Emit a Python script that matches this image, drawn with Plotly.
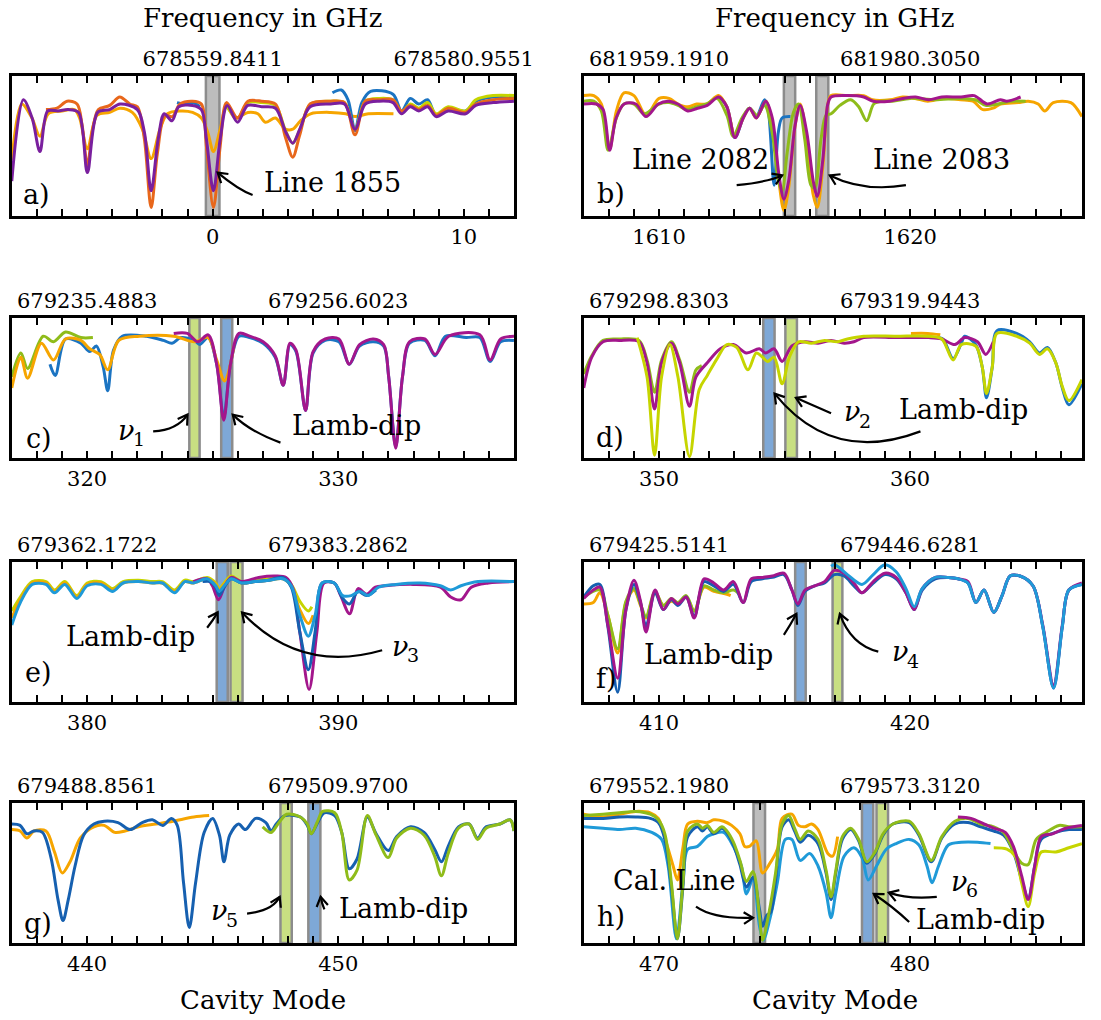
import math
import plotly.graph_objects as go

FONT = "DejaVu Serif"
W, H = 1101, 1020

# ---------------- axis / label data ----------------
PANEL_LETTERS = ["a)", "b)", "c)", "d)", "e)", "f)", "g)", "h)"]
X_START = [-8, 1607, 317, 347, 377, 407, 437, 467]
TOP_TICK_MODES = [[0, 10], [1610, 1620], [320, 330], [350, 360],
                  [380, 390], [410, 420], [440, 450], [470, 480]]
TOP_TICK_LABELS = [["678559.8411", "678580.9551"], ["681959.1910", "681980.3050"],
                   ["679235.4883", "679256.6023"], ["679298.8303", "679319.9443"],
                   ["679362.1722", "679383.2862"], ["679425.5141", "679446.6281"],
                   ["679488.8561", "679509.9700"], ["679552.1980", "679573.3120"]]
LETTER_POS = [(-7.0, 0.15), (1608.1, 0.16), (318.1, 0.14), (348.05, 0.15),
              (378.06, 0.21), (407.9, 0.17), (438.04, 0.14), (468.09, 0.19)]

# ---------------- spectra (cavity mode, normalised signal) ----------------
A_PURPLE = [(-8.0, 0.25), (-7.54, 0.83), (-7.19, 0.70), (-6.88, 0.46), (-6.57, 0.75), (-6.16, 0.75),
            (-5.75, 0.76), (-5.34, 0.74), (-4.99, 0.31), (-4.58, 0.74), (-4.10, 0.76), (-3.69, 0.80),
            (-3.0, 0.76), (-2.72, 0.60), (-2.45, 0.18), (-2.17, 0.55), (-1.93, 0.73), (-1.62, 0.68),
            (-1.35, 0.78), (-0.80, 0.79), (-0.45, 0.76), (-0.25, 0.55), (0.03, 0.18), (0.30, 0.55),
            (0.58, 0.79), (0.99, 0.67), (1.40, 0.79), (1.95, 0.78), (2.50, 0.77), (2.91, 0.60),
            (3.19, 0.52), (3.47, 0.62), (3.88, 0.78), (4.70, 0.80), (5.25, 0.80), (5.67, 0.62),
            (6.08, 0.80), (6.63, 0.82), (7.18, 0.81), (7.52, 0.73), (7.87, 0.78), (8.21, 0.75),
            (8.56, 0.78), (8.90, 0.71), (9.38, 0.75), (10.07, 0.73), (10.48, 0.79), (11.17, 0.81),
            (12.0, 0.82)]
A_ORANGE = [(-6.64, 0.76), (-6.2, 0.77), (-5.8, 0.82), (-5.4, 0.80), (-5.2, 0.65), (-4.99, 0.36),
            (-4.78, 0.62), (-4.55, 0.76), (-4.1, 0.79), (-3.7, 0.85), (-3.3, 0.80), (-3.0, 0.78),
            (-2.72, 0.55), (-2.45, 0.06), (-2.2, 0.45), (-1.9, 0.72), (-1.6, 0.71), (-1.3, 0.80),
            (-0.8, 0.82), (-0.45, 0.80), (-0.25, 0.50), (0.03, 0.06), (0.3, 0.50), (0.55, 0.81),
            (0.99, 0.70), (1.4, 0.82), (1.95, 0.82), (2.5, 0.80), (2.9, 0.56), (3.19, 0.42),
            (3.47, 0.58), (3.88, 0.80), (4.7, 0.82), (5.25, 0.81), (5.67, 0.58), (6.08, 0.82),
            (6.63, 0.83), (7.18, 0.83), (7.52, 0.75), (7.87, 0.79), (8.21, 0.76), (8.56, 0.79),
            (8.9, 0.72), (9.38, 0.77), (10.07, 0.74), (10.48, 0.80), (11.17, 0.83), (12.0, 0.84)]
A_AMBER = [(-8.0, 0.40), (-7.6, 0.80), (-7.2, 0.70), (-6.88, 0.57), (-6.55, 0.73), (-6.0, 0.75),
           (-5.5, 0.76), (-5.3, 0.70), (-4.99, 0.48), (-4.6, 0.72), (-4.1, 0.74), (-3.7, 0.77),
           (-3.2, 0.74), (-2.8, 0.62), (-2.45, 0.41), (-2.1, 0.62), (-1.8, 0.73), (-1.3, 0.75),
           (-0.8, 0.74), (-0.45, 0.70), (-0.2, 0.60), (0.03, 0.46), (0.3, 0.62), (0.55, 0.78),
           (0.9, 0.70), (1.4, 0.74), (1.8, 0.73), (2.1, 0.67), (2.5, 0.70), (2.9, 0.62),
           (3.19, 0.62), (3.5, 0.68), (3.9, 0.73), (4.7, 0.74), (5.3, 0.73), (5.67, 0.71),
           (6.2, 0.73), (7.2, 0.73)]
A_BLUE = [(-1.42, 0.81), (-1.1, 0.80), (-0.8, 0.81), (-0.5, 0.78), (None, None),
          (4.77, 0.88), (5.12, 0.90), (5.39, 0.83), (5.67, 0.61), (5.94, 0.81), (6.29, 0.89),
          (7.18, 0.87), (7.52, 0.75), (7.87, 0.84), (8.21, 0.80), (8.56, 0.83), (8.9, 0.72),
          (9.38, 0.77), (10.07, 0.75), (10.48, 0.82), (11.17, 0.85), (12.0, 0.85)]
A_GREEN = [(0.5, 0.80), (0.99, 0.70), (1.4, 0.81), (1.95, 0.81), (2.5, 0.79), (2.9, 0.61),
           (3.19, 0.52), (3.5, 0.63), (3.9, 0.80), (4.7, 0.82), (5.25, 0.81), (5.67, 0.62),
           (6.08, 0.82), (6.63, 0.84), (7.18, 0.83), (7.52, 0.74), (7.87, 0.80), (8.21, 0.77),
           (8.56, 0.81), (8.9, 0.73), (9.38, 0.78), (10.07, 0.75), (10.48, 0.83), (11.17, 0.86),
           (12.0, 0.86)]

B_MAGENTA = [(1607.0, 0.80), (1607.5, 0.80), (1607.77, 0.76), (1608.03, 0.47), (1608.29, 0.70),
             (1608.61, 0.80), (1609.07, 0.80), (1609.48, 0.71), (1609.97, 0.80), (1610.36, 0.82),
             (1610.75, 0.80), (1611.14, 0.75), (1611.53, 0.77), (1611.92, 0.79), (1612.37, 0.85),
             (1612.70, 0.78), (1613.02, 0.56), (1613.35, 0.70), (1613.61, 0.77), (1613.87, 0.70),
             (1614.25, 0.82), (1614.51, 0.70), (1614.77, 0.30), (1614.97, 0.12), (1615.16, 0.25),
             (1615.42, 0.65), (1615.62, 0.79), (1615.88, 0.60), (1616.14, 0.25), (1616.30, 0.14),
             (1616.52, 0.40), (1616.72, 0.80), (1616.85, 0.85), (1617.5, 0.86), (1618.15, 0.85),
             (1618.53, 0.82), (1619.18, 0.82), (1619.70, 0.84), (1620.22, 0.85), (1620.74, 0.83),
             (1621.26, 0.85), (1622.03, 0.85), (1622.55, 0.86), (1623.07, 0.80), (1623.59, 0.83),
             (1623.85, 0.82), (1624.4, 0.85)]
B_AMBER = [(1607.0, 0.86), (1607.4, 0.86), (1607.7, 0.80), (1608.03, 0.48), (1608.3, 0.75),
           (1608.6, 0.88), (1609.0, 0.86), (1609.48, 0.72), (1610.0, 0.84), (1610.4, 0.84),
           (1610.75, 0.80), (1611.14, 0.78), (1611.5, 0.80), (1611.9, 0.80), (1612.37, 0.86),
           (1612.7, 0.78), (1613.02, 0.57), (1613.35, 0.70), (1613.6, 0.77), (1613.87, 0.70),
           (1614.25, 0.82), (1614.5, 0.65), (1614.77, 0.25), (1614.97, 0.04), (1615.16, 0.20),
           (1615.42, 0.65), (1615.62, 0.80), (1615.88, 0.55), (1616.14, 0.15), (1616.3, 0.06),
           (1616.52, 0.35), (1616.72, 0.80), (1616.85, 0.86), (1617.5, 0.86), (1618.15, 0.86),
           (1618.5, 0.83), (1619.2, 0.83), (1619.7, 0.85), (1620.2, 0.84), (1620.7, 0.82),
           (1621.3, 0.84), (1622.0, 0.83), (1622.5, 0.82), (1622.9, 0.76), (1623.3, 0.77),
           (1623.6, 0.80), (1624.3, 0.81), (1624.7, 0.82), (1625.1, 0.80), (1625.36, 0.75),
           (1625.7, 0.81), (1626.4, 0.81), (1626.84, 0.71)]
B_GREEN = [(1607.0, 0.82), (1607.4, 0.82), (1607.7, 0.75), (1607.97, 0.47), (1608.3, 0.70),
           (1608.6, 0.80), (1609.0, 0.80), (1609.4, 0.73), (1610.0, 0.80), (1610.4, 0.81),
           (1610.75, 0.79), (1611.1, 0.76), (1611.5, 0.78), (1611.9, 0.80), (1612.3, 0.84),
           (1612.7, 0.72), (1612.95, 0.57), (1613.3, 0.70), (1613.6, 0.77), (1613.9, 0.72),
           (1614.2, 0.79), (1614.5, 0.60), (1614.75, 0.25), (1614.9, 0.18), (1615.1, 0.45),
           (1615.35, 0.74), (1615.55, 0.80), (1615.8, 0.55), (1616.05, 0.22), (1616.2, 0.20),
           (1616.45, 0.55), (1616.65, 0.72), (1616.85, 0.73), (1617.2, 0.79), (1617.63, 0.83),
           (1617.95, 0.78), (1618.27, 0.68), (1618.55, 0.80), (1618.9, 0.82), (1619.3, 0.82),
           (1620.0, 0.84), (1621.0, 0.83), (1622.0, 0.84), (1622.6, 0.83), (1623.0, 0.79),
           (1623.5, 0.80), (1624.0, 0.82), (1624.6, 0.82)]
B_BLUE = [(1612.4, 0.85), (1612.7, 0.78), (1613.02, 0.56), (1613.35, 0.70), (1613.6, 0.77),
          (1613.87, 0.71), (1614.2, 0.83), (1614.35, 0.75), (1614.58, 0.22), (1614.75, 0.60),
          (1614.9, 0.70), (1615.23, 0.71)]

C_GREEN = [(317.0, 0.58), (317.36, 0.75), (317.63, 0.64), (318.25, 0.87), (318.66, 0.83),
           (319.14, 0.90), (319.75, 0.86), (320.23, 0.86)]
C_AMBER = [(317.0, 0.50), (317.36, 0.72), (317.63, 0.57), (318.18, 0.82), (318.66, 0.70),
           (319.14, 0.85), (319.75, 0.84), (320.1, 0.78), (320.5, 0.74), (320.82, 0.63),
           (321.26, 0.84), (322.08, 0.87), (323.45, 0.87), (324.27, 0.83), (324.82, 0.86),
           (325.16, 0.70), (325.48, 0.55), (325.85, 0.80)]
C_BLUE = [(318.52, 0.67), (318.73, 0.59), (319.14, 0.85), (319.75, 0.82), (320.1, 0.76),
          (320.37, 0.80), (320.64, 0.65), (320.82, 0.48), (321.05, 0.77), (321.4, 0.87),
          (322.36, 0.87), (323.04, 0.84), (323.38, 0.82), (323.73, 0.86), (324.27, 0.84),
          (324.48, 0.81), (324.82, 0.86), (325.16, 0.67), (325.44, 0.29), (325.71, 0.67),
          (326.05, 0.87), (326.47, 0.86), (327.01, 0.82), (327.49, 0.72), (327.81, 0.52),
          (328.08, 0.81), (328.32, 0.76), (328.7, 0.34), (329.0, 0.75), (329.48, 0.84),
          (330.03, 0.83), (330.44, 0.67), (330.85, 0.80), (331.4, 0.83), (331.81, 0.80),
          (332.01, 0.58), (332.29, 0.08), (332.56, 0.58), (332.84, 0.82), (333.45, 0.84),
          (333.86, 0.73), (334.27, 0.87), (335.1, 0.86), (335.64, 0.86), (336.05, 0.69),
          (336.47, 0.83), (337.0, 0.84)]
C_MAGENTA = [(323.45, 0.89), (323.99, 0.89), (324.41, 0.83), (324.82, 0.88), (325.16, 0.67),
             (325.44, 0.27), (325.71, 0.67), (326.05, 0.89), (326.47, 0.87), (327.01, 0.83),
             (327.49, 0.73), (327.81, 0.52), (328.08, 0.82), (328.32, 0.77), (328.7, 0.34),
             (329.0, 0.76), (329.48, 0.85), (330.03, 0.85), (330.44, 0.67), (330.85, 0.81),
             (331.4, 0.85), (331.81, 0.81), (332.01, 0.58), (332.29, 0.07), (332.56, 0.58),
             (332.84, 0.83), (333.45, 0.85), (333.86, 0.74), (334.4, 0.87), (335.64, 0.88),
             (336.05, 0.70), (336.47, 0.85), (337.0, 0.87)]

D_MAGENTA = [(347.0, 0.50), (347.32, 0.72), (347.77, 0.83), (348.42, 0.84), (349.2, 0.83),
             (349.52, 0.68), (349.82, 0.35), (350.1, 0.68), (350.49, 0.82), (350.82, 0.68),
             (351.21, 0.37), (351.47, 0.58), (351.92, 0.68), (352.44, 0.78), (352.96, 0.81),
             (353.48, 0.75), (353.99, 0.78), (354.25, 0.75), (354.58, 0.78), (354.9, 0.69),
             (355.29, 0.80), (355.81, 0.83), (356.33, 0.82), (356.85, 0.84), (357.37, 0.82),
             (357.76, 0.83), (358.15, 0.86), (359.44, 0.86), (360.74, 0.86), (361.26, 0.85),
             (361.78, 0.81), (362.17, 0.86), (362.68, 0.83), (363.01, 0.74), (363.31, 0.83)]
D_GREEN = [(347.0, 0.60), (347.32, 0.73), (347.77, 0.84), (348.42, 0.85), (349.2, 0.84),
           (349.52, 0.70), (349.82, 0.47), (350.1, 0.70), (350.49, 0.83), (350.82, 0.70),
           (351.21, 0.47), (351.47, 0.63), (351.7, 0.66)]
D_LIME = [(349.13, 0.86), (349.52, 0.58), (349.82, 0.02), (350.1, 0.58), (350.43, 0.81),
          (350.75, 0.58), (351.21, 0.01), (351.6, 0.49), (351.92, 0.59), (352.31, 0.71),
          (352.7, 0.81), (353.09, 0.79), (353.54, 0.63), (353.87, 0.75), (354.12, 0.72),
          (354.32, 0.69), (354.58, 0.72), (354.9, 0.53), (355.19, 0.72), (355.55, 0.83),
          (356.07, 0.82), (356.59, 0.84), (357.11, 0.83), (357.5, 0.85), (358.15, 0.87),
          (359.44, 0.87), (360.74, 0.87), (361.26, 0.85), (361.71, 0.70), (362.04, 0.81),
          (362.61, 0.80), (362.87, 0.65), (363.04, 0.46), (363.27, 0.65), (363.46, 0.89),
          (364.24, 0.87), (364.76, 0.82), (365.15, 0.74), (365.47, 0.78), (365.8, 0.68),
          (366.06, 0.51), (366.32, 0.41), (366.84, 0.56)]
D_BLUE = [(361.0, 0.86), (361.3, 0.85), (361.71, 0.71), (362.04, 0.82), (362.17, 0.87),
          (362.61, 0.81), (362.87, 0.65), (363.04, 0.43), (363.27, 0.65), (363.46, 0.91),
          (364.24, 0.89), (364.76, 0.83), (365.15, 0.75), (365.47, 0.79), (365.8, 0.68),
          (366.06, 0.50), (366.32, 0.38), (366.84, 0.53)]
D_ORANGE = [(360.03, 0.89), (360.7, 0.89), (361.2, 0.88)]

E_LBLUE = [(377.0, 0.55), (377.34, 0.71), (377.81, 0.84), (378.36, 0.84), (378.7, 0.78),
           (379.11, 0.84), (379.59, 0.74), (380.0, 0.83), (380.55, 0.84), (381.02, 0.79),
           (381.43, 0.85), (382.05, 0.86), (382.6, 0.85), (383.0, 0.85), (383.48, 0.78),
           (383.89, 0.86), (384.23, 0.85), (384.78, 0.88), (385.12, 0.83), (385.26, 0.79),
           (385.46, 0.83), (385.74, 0.88), (386.15, 0.85), (386.69, 0.86), (387.24, 0.87),
           (387.79, 0.88), (388.13, 0.83), (388.47, 0.62), (388.81, 0.47), (389.08, 0.62),
           (389.36, 0.85), (389.84, 0.85), (390.18, 0.76), (390.52, 0.76), (390.86, 0.79),
           (391.2, 0.76), (391.61, 0.82), (392.3, 0.84), (393.25, 0.85), (394.07, 0.83),
           (394.48, 0.80), (394.89, 0.83), (395.57, 0.86), (397.0, 0.86)]
E_DBLUE = [(384.6, 0.86), (384.9, 0.86), (385.12, 0.82), (385.26, 0.76), (385.46, 0.82),
           (385.74, 0.88), (386.15, 0.85), (386.69, 0.86), (387.24, 0.87), (387.79, 0.89),
           (388.13, 0.82), (388.47, 0.50), (388.81, 0.23), (389.08, 0.50), (389.36, 0.85),
           (389.84, 0.85), (390.18, 0.74), (390.45, 0.70), (390.79, 0.79), (391.13, 0.76),
           (391.5, 0.80)]
E_MAGENTA = [(384.23, 0.86), (384.78, 0.88), (384.99, 0.83), (385.23, 0.73), (385.46, 0.82),
             (385.74, 0.89), (386.15, 0.86), (386.83, 0.89), (387.51, 0.90), (387.92, 0.89),
             (388.2, 0.81), (388.47, 0.50), (388.84, 0.09), (389.15, 0.50), (389.43, 0.85),
             (389.84, 0.85), (390.1, 0.76), (390.45, 0.63), (390.79, 0.81), (391.13, 0.77),
             (391.48, 0.82), (391.89, 0.83), (392.98, 0.84), (394.07, 0.82), (394.48, 0.75),
             (394.89, 0.73), (395.3, 0.82), (395.98, 0.85), (397.0, 0.86)]
E_LIME = [(377.0, 0.65), (377.34, 0.75), (377.81, 0.86), (378.36, 0.86), (378.7, 0.80),
          (379.11, 0.86), (379.59, 0.76), (380.0, 0.85), (380.55, 0.86), (381.02, 0.81),
          (381.43, 0.86), (382.05, 0.87), (382.6, 0.86), (383.0, 0.86), (383.48, 0.80),
          (383.89, 0.87), (384.23, 0.86), (384.78, 0.89), (385.12, 0.85), (385.26, 0.81),
          (385.46, 0.85), (385.74, 0.90), (386.15, 0.86), (386.69, 0.87), (387.24, 0.88),
          (387.79, 0.89), (388.13, 0.84), (388.47, 0.72), (388.81, 0.65), (388.95, 0.68)]
E_AMBER = [(377.0, 0.60), (377.34, 0.73), (377.81, 0.85), (378.36, 0.85), (378.7, 0.79),
           (379.11, 0.85), (379.59, 0.75), (380.0, 0.84), (380.55, 0.85), (381.02, 0.80),
           (381.43, 0.85), (382.05, 0.86), (382.6, 0.85), (383.0, 0.85), (383.48, 0.79),
           (383.89, 0.86), (384.23, 0.85), (384.78, 0.88), (385.12, 0.84), (385.26, 0.80),
           (385.46, 0.84), (385.74, 0.89), (386.15, 0.85), (386.69, 0.86), (387.24, 0.87),
           (387.79, 0.88), (388.13, 0.83), (388.47, 0.66), (388.81, 0.56), (389.0, 0.62)]

F_BLUE = [(407.0, 0.75), (407.38, 0.83), (407.64, 0.84), (407.96, 0.54), (408.35, 0.07),
          (408.68, 0.66), (409.0, 0.84), (409.26, 0.71), (409.48, 0.54), (409.84, 0.78),
          (410.17, 0.66), (410.49, 0.73), (410.75, 0.69), (411.08, 0.75), (411.4, 0.61),
          (411.79, 0.86), (412.18, 0.83), (412.57, 0.79), (412.96, 0.84), (413.35, 0.71),
          (413.67, 0.86), (414.12, 0.88), (414.51, 0.89), (414.97, 0.91), (415.29, 0.80),
          (415.53, 0.69), (415.81, 0.79), (416.2, 0.83), (416.59, 0.85), (416.98, 0.91),
          (417.37, 0.90), (417.76, 0.83), (418.08, 0.78), (418.53, 0.85), (418.99, 0.91),
          (419.44, 0.88), (419.83, 0.78), (420.16, 0.66), (420.48, 0.80), (421.0, 0.88),
          (421.52, 0.89), (421.91, 0.88), (422.3, 0.85), (422.62, 0.71), (422.94, 0.80),
          (423.33, 0.64), (423.66, 0.76), (423.98, 0.90), (424.37, 0.90), (424.89, 0.83),
          (425.28, 0.54), (425.71, 0.10), (426.06, 0.54), (426.32, 0.80), (426.84, 0.84)]
F_MAGENTA = [(407.0, 0.74), (407.38, 0.80), (407.64, 0.82), (407.96, 0.55), (408.35, 0.17),
             (408.68, 0.66), (409.0, 0.87), (409.26, 0.72), (409.48, 0.50), (409.84, 0.80),
             (410.17, 0.66), (410.49, 0.74), (410.75, 0.70), (411.08, 0.75), (411.4, 0.60),
             (411.79, 0.88), (412.18, 0.85), (412.57, 0.80), (412.96, 0.86), (413.35, 0.71),
             (413.67, 0.88), (414.12, 0.89), (414.51, 0.90), (414.97, 0.92), (415.29, 0.80),
             (415.53, 0.70), (415.81, 0.80), (416.2, 0.83), (416.59, 0.86), (416.98, 0.94),
             (417.37, 0.92), (417.76, 0.85), (418.08, 0.78), (418.53, 0.86), (418.99, 0.92),
             (419.44, 0.89), (419.83, 0.78), (420.16, 0.66), (420.48, 0.81), (421.0, 0.89),
             (421.52, 0.89), (421.91, 0.88), (422.3, 0.86), (422.62, 0.71), (422.94, 0.80),
             (423.33, 0.64), (423.66, 0.76), (423.98, 0.90), (424.37, 0.90), (424.89, 0.83),
             (425.28, 0.55), (425.71, 0.12), (426.06, 0.55), (426.32, 0.80), (426.84, 0.85)]
F_LBLUE = [(416.85, 0.97), (417.0, 0.98), (417.5, 0.91), (418.08, 0.84), (418.53, 0.91),
           (418.99, 0.98), (419.44, 0.93), (419.83, 0.81), (420.16, 0.68), (420.48, 0.81),
           (421.0, 0.89), (421.52, 0.89), (421.91, 0.88), (422.3, 0.85), (422.62, 0.71),
           (422.94, 0.80), (423.33, 0.64), (423.66, 0.76), (423.98, 0.90), (424.37, 0.90),
           (424.89, 0.83), (425.28, 0.54), (425.71, 0.10), (426.06, 0.54), (426.32, 0.80),
           (426.84, 0.84)]
F_AMBER = [(407.0, 0.70), (407.38, 0.71), (407.64, 0.78), (407.96, 0.62), (408.35, 0.35),
           (408.68, 0.71), (409.0, 0.80), (409.26, 0.69), (409.48, 0.60), (409.84, 0.78),
           (410.17, 0.69), (410.49, 0.72), (410.75, 0.70), (411.08, 0.75), (411.4, 0.65),
           (411.79, 0.82), (412.18, 0.79), (412.7, 0.77), (412.85, 0.76)]
F_GREEN = [(407.0, 0.75), (407.64, 0.80), (407.96, 0.62), (408.35, 0.38), (408.68, 0.72),
           (409.0, 0.81), (409.26, 0.70), (409.48, 0.61), (409.84, 0.79), (410.17, 0.69),
           (410.49, 0.74), (410.75, 0.71), (411.08, 0.76), (411.4, 0.65), (411.79, 0.83),
           (412.18, 0.80), (412.57, 0.78), (412.96, 0.80), (413.2, 0.77)]

G_BLUE = [(437.0, 0.85), (437.33, 0.84), (437.6, 0.78), (437.88, 0.80), (438.22, 0.79),
          (438.56, 0.61), (438.84, 0.31), (439.04, 0.16), (439.25, 0.31), (439.52, 0.55),
          (439.86, 0.77), (440.27, 0.85), (440.68, 0.87), (441.23, 0.86), (441.71, 0.81),
          (442.19, 0.86), (442.6, 0.88), (443.01, 0.84), (443.36, 0.89), (443.59, 0.84),
          (443.84, 0.43), (444.07, 0.11), (444.32, 0.43), (444.66, 0.79), (445.0, 0.89),
          (445.27, 0.77), (445.45, 0.58), (445.68, 0.77), (446.03, 0.85), (446.3, 0.81),
          (446.71, 0.89), (447.12, 0.86), (447.33, 0.80), (447.53, 0.85), (447.88, 0.91),
          (448.49, 0.90), (448.77, 0.84), (448.93, 0.78), (449.18, 0.86), (449.45, 0.93),
          (449.86, 0.91), (450.14, 0.79), (450.44, 0.53), (450.75, 0.60), (451.16, 0.90),
          (451.51, 0.78), (451.99, 0.66), (452.33, 0.76), (452.88, 0.83), (453.42, 0.79),
          (453.84, 0.67), (454.11, 0.58), (454.38, 0.69), (454.79, 0.83), (455.21, 0.85),
          (455.55, 0.75), (455.89, 0.83), (456.44, 0.85), (456.85, 0.88), (457.0, 0.80)]
G_AMBER = [(437.0, 0.81), (437.33, 0.80), (437.6, 0.75), (437.88, 0.80), (438.36, 0.80),
           (438.7, 0.65), (439.01, 0.50), (439.32, 0.58), (439.73, 0.75), (440.27, 0.83),
           (440.68, 0.84), (441.1, 0.79), (441.51, 0.80), (442.05, 0.83), (442.74, 0.85),
           (443.42, 0.87), (444.25, 0.90), (444.86, 0.91)]
G_GREEN = [(446.99, 0.83), (447.33, 0.79), (447.6, 0.85), (447.95, 0.92), (448.49, 0.90),
           (448.77, 0.85), (448.93, 0.78), (449.18, 0.87), (449.38, 0.94), (449.86, 0.93),
           (450.14, 0.79), (450.44, 0.45), (450.75, 0.52), (451.16, 0.91), (451.51, 0.77),
           (451.99, 0.61), (452.33, 0.75), (452.88, 0.82), (453.42, 0.77), (453.84, 0.62),
           (454.11, 0.48), (454.38, 0.64), (454.79, 0.82), (455.21, 0.85), (455.55, 0.74),
           (455.89, 0.82), (456.44, 0.85), (456.85, 0.88), (457.0, 0.80)]

H_GREEN = [(467.0, 0.91), (467.77, 0.92), (468.42, 0.93), (469.07, 0.94), (469.65, 0.92),
           (469.97, 0.88), (470.23, 0.78), (470.49, 0.43), (470.73, 0.03), (470.95, 0.43),
           (471.14, 0.80), (471.53, 0.85), (471.73, 0.82), (471.92, 0.84), (472.18, 0.79),
           (472.5, 0.83), (472.7, 0.80), (472.96, 0.72), (473.22, 0.59), (473.48, 0.44),
           (473.74, 0.51), (474.0, 0.19), (474.12, 0.02), (474.38, 0.22), (474.64, 0.50),
           (474.9, 0.85), (475.16, 0.91), (475.42, 0.81), (475.62, 0.74), (475.94, 0.80),
           (476.33, 0.74), (476.65, 0.52), (476.85, 0.33), (477.04, 0.52), (477.3, 0.76),
           (477.63, 0.82), (477.95, 0.74), (478.27, 0.58), (478.6, 0.65), (478.92, 0.78),
           (479.31, 0.85), (479.96, 0.87), (480.35, 0.78), (480.84, 0.59), (481.26, 0.76),
           (481.78, 0.87), (482.3, 0.89), (482.81, 0.85), (483.33, 0.83), (483.72, 0.79),
           (484.11, 0.66), (484.44, 0.57), (484.7, 0.56), (485.02, 0.74), (485.41, 0.79),
           (485.93, 0.84), (486.32, 0.83), (486.84, 0.83)]
H_AMBER = [(467.0, 0.92), (467.77, 0.90), (468.42, 0.92), (469.07, 0.94), (469.65, 0.93),
           (469.97, 0.89), (470.3, 0.71), (470.56, 0.55), (470.73, 0.45), (470.95, 0.68),
           (471.14, 0.85), (471.53, 0.87), (471.92, 0.86), (472.18, 0.88), (472.57, 0.87),
           (472.89, 0.84), (473.22, 0.78), (473.41, 0.69), (473.6, 0.69), (473.87, 0.73),
           (474.12, 0.50), (474.38, 0.56), (474.71, 0.67), (474.9, 0.89), (475.29, 0.92),
           (475.55, 0.84), (475.81, 0.83), (476.07, 0.85), (476.33, 0.81), (476.72, 0.64),
           (476.91, 0.62), (477.11, 0.76)]
H_LBLUE = [(467.0, 0.83), (467.77, 0.82), (468.42, 0.81), (469.07, 0.82), (469.71, 0.79),
           (470.1, 0.74), (470.36, 0.55), (470.69, 0.03), (470.95, 0.43), (471.14, 0.67),
           (471.53, 0.69), (471.92, 0.76), (472.18, 0.78), (472.57, 0.79), (472.96, 0.69),
           (473.28, 0.55), (473.48, 0.35), (473.74, 0.46), (474.0, 0.12), (474.15, 0.02),
           (474.41, 0.17), (474.71, 0.43), (475.03, 0.74), (475.29, 0.74), (475.62, 0.59),
           (476.0, 0.64), (476.33, 0.55), (476.65, 0.36), (476.85, 0.18), (477.04, 0.36),
           (477.37, 0.62), (477.76, 0.68), (478.08, 0.61), (478.33, 0.45), (478.66, 0.55),
           (479.05, 0.67), (479.44, 0.71), (479.96, 0.74), (480.35, 0.70), (480.67, 0.55),
           (480.87, 0.43), (481.13, 0.55), (481.52, 0.70), (482.04, 0.72), (482.68, 0.72),
           (483.2, 0.71)]
H_DBLUE = [(467.0, 0.89), (467.77, 0.89), (468.42, 0.90), (469.07, 0.90), (469.65, 0.89),
           (469.97, 0.86), (470.23, 0.74), (470.49, 0.40), (470.73, 0.03), (470.95, 0.40),
           (471.14, 0.76), (471.53, 0.83), (471.73, 0.80), (471.92, 0.83), (472.18, 0.78),
           (472.5, 0.82), (472.7, 0.79), (472.96, 0.70), (473.22, 0.56), (473.48, 0.40),
           (473.74, 0.47), (474.0, 0.24), (474.12, 0.12), (474.3, 0.20), (474.45, 0.22),
           (474.64, 0.45), (474.9, 0.83), (475.16, 0.88), (475.42, 0.79), (475.62, 0.72),
           (475.94, 0.77), (476.33, 0.71), (476.65, 0.50), (476.85, 0.31), (477.04, 0.50),
           (477.3, 0.74), (477.63, 0.81), (477.95, 0.73), (478.27, 0.57), (478.6, 0.64),
           (478.92, 0.77), (479.31, 0.85), (479.96, 0.86), (480.35, 0.77), (480.84, 0.58),
           (481.26, 0.75), (481.78, 0.85), (482.3, 0.86), (482.81, 0.83), (483.33, 0.80),
           (483.72, 0.77), (484.11, 0.65), (484.44, 0.45), (484.7, 0.32), (484.96, 0.55),
           (485.22, 0.74), (485.8, 0.79), (486.32, 0.81), (486.84, 0.81)]
H_MAGENTA = [(481.9, 0.90), (482.42, 0.89), (482.94, 0.85), (483.33, 0.82), (483.79, 0.79),
             (484.11, 0.69), (484.44, 0.48), (484.7, 0.31), (484.96, 0.55), (485.22, 0.76),
             (485.67, 0.78), (486.19, 0.82), (486.84, 0.84)]
H_LIME = [(483.33, 0.68), (483.85, 0.67), (484.18, 0.62), (484.44, 0.43), (484.7, 0.26),
          (484.96, 0.50), (485.22, 0.65), (485.8, 0.65), (486.32, 0.68), (486.84, 0.71)]

# colours
PURPLE = "#7a1f9e"
MAGENTA = "#a3168c"
ORANGE = "#e8671b"
AMBER = "#f6a500"
GREEN = "#8fbc1a"
LIME = "#c6d500"
BLUE = "#1b74c2"
LBLUE = "#1f9ad8"
DBLUE = "#1660b0"

PANEL_SERIES = [
    [(A_AMBER, AMBER), (A_BLUE, BLUE), (A_GREEN, LIME), (A_ORANGE, ORANGE), (A_PURPLE, PURPLE)],
    [(B_BLUE, BLUE), (B_AMBER, AMBER), (B_GREEN, GREEN), (B_MAGENTA, MAGENTA)],
    [(C_BLUE, BLUE), (C_GREEN, GREEN), (C_AMBER, AMBER), (C_MAGENTA, MAGENTA)],
    [(D_ORANGE, AMBER), (D_BLUE, BLUE), (D_GREEN, GREEN), (D_MAGENTA, MAGENTA), (D_LIME, LIME)],
    [(E_LIME, LIME), (E_AMBER, AMBER), (E_MAGENTA, MAGENTA), (E_DBLUE, DBLUE), (E_LBLUE, LBLUE)],
    [(F_AMBER, AMBER), (F_GREEN, GREEN), (F_BLUE, DBLUE), (F_MAGENTA, MAGENTA), (F_LBLUE, LBLUE)],
    [(G_AMBER, AMBER), (G_BLUE, DBLUE), (G_GREEN, GREEN)],
    [(H_AMBER, AMBER), (H_LBLUE, LBLUE), (H_DBLUE, DBLUE), (H_GREEN, GREEN), (H_LIME, LIME),
     (H_MAGENTA, MAGENTA)],
]

# shaded bands: (from, to, kind)
BANDS = [
    [(-0.27, 0.27, "gray")],
    [(1614.97, 1615.42, "gray"), (1616.26, 1616.74, "gray")],
    [(324.07, 324.48, "green"), (325.34, 325.78, "blue")],
    [(354.15, 354.6, "blue"), (355.03, 355.49, "green")],
    [(385.16, 385.6, "blue"), (385.71, 386.19, "green")],
    [(415.42, 415.84, "blue"), (416.91, 417.3, "green")],
    [(447.7, 448.15, "green"), (448.81, 449.29, "blue")],
    [(473.76, 474.22, "gray"), (478.08, 478.53, "blue"), (478.66, 479.12, "green")],
]
BAND_FILL = {"gray": "#bdbdbd", "blue": "#7ea8d7", "green": "#c8df82"}

# labels: (text, x, y)
LABELS = [
    [("Line 1855", 4.77, 0.24)],
    [("Line 2082", 1611.63, 0.40), ("Line 2083", 1621.26, 0.40)],
    [("Lamb-dip", 330.71, 0.23)],
    [("Lamb-dip", 362.13, 0.35)],
    [("Lamb-dip", 381.71, 0.47)],
    [("Lamb-dip", 411.95, 0.34)],
    [("Lamb-dip", 452.6, 0.25)],
    [("Cal. Line", 470.62, 0.45), ("Lamb-dip", 482.79, 0.17)],
]
# frequency labels nu_k: (index, x, y)
NU_LABELS = [
    [],
    [],
    [("1", 321.78, 0.20)],
    [("2", 357.91, 0.33)],
    [("3", 392.7, 0.40)],
    [("4", 419.83, 0.36)],
    [("5", 445.51, 0.23)],
    [("6", 482.17, 0.44)],
]
# arrows: (tail, control, head)
ARROWS = [
    [((1.59, 0.15), (1.0, 0.19), (0.2, 0.31))],
    [((1613.09, 0.22), (1614.25, 0.24), (1614.9, 0.29)),
     ((1619.83, 0.22), (1618.15, 0.17), (1616.8, 0.29))],
    [((322.63, 0.19), (323.59, 0.20), (324.0, 0.31)),
     ((327.7, 0.11), (326.47, 0.19), (325.8, 0.31))],
    [((356.85, 0.32), (355.94, 0.39), (355.45, 0.43)),
     ((360.41, 0.19), (356.9, -0.05), (354.6, 0.46))],
    [((384.78, 0.53), (385.0, 0.58), (385.2, 0.64)),
     ((391.75, 0.37), (388.47, 0.20), (386.17, 0.64))],
    [((414.97, 0.48), (415.23, 0.55), (415.47, 0.63)),
     ((418.73, 0.36), (417.63, 0.41), (417.2, 0.63))],
    [((446.37, 0.21), (447.4, 0.23), (447.67, 0.33)),
     ((449.45, 0.24), (449.35, 0.28), (449.3, 0.33))],
    [((471.47, 0.26), (472.18, 0.17), (473.74, 0.18)),
     ((481.06, 0.33), (479.96, 0.31), (479.15, 0.36)),
     ((479.96, 0.15), (479.31, 0.26), (478.55, 0.35))],
]

# ---------------- layout geometry ----------------
COL_DOM = [[12 / W, 523 / W], [594 / W, 1.0]]
ROW_TOP = [76, 318, 562, 803]
BOX_H = 140
PX_PER_UNIT = 511 / 20.0
HEAD_LEN = 11.0
HEAD_ANG = math.radians(32)

fig = go.Figure()
layout = dict(width=W, height=H, autosize=False, margin=dict(l=0, r=0, t=0, b=0, pad=0),
              paper_bgcolor="white", plot_bgcolor="white", showlegend=False,
              font=dict(family=FONT, color="black"))
shapes = []
annotations = []

for i in range(8):
    n = i + 1
    row, col = i // 2, i % 2
    x0 = X_START[i]
    dom = COL_DOM[col]
    width_px = (dom[1] - dom[0]) * W
    xr = [x0, x0 + width_px / PX_PER_UNIT]
    top = ROW_TOP[row]
    ydom = [1 - (top + BOX_H) / H, 1 - top / H]
    xa = f"x{n}"
    ya = f"y{n}"
    layout[f"xaxis{n}"] = dict(
        domain=dom, anchor=ya, range=xr, showgrid=False, zeroline=False,
        showline=True, linecolor="black", linewidth=3, mirror="ticks",
        ticks="inside", ticklen=7, tickwidth=1.5, tickcolor="black",
        tickmode="linear", tick0=0, dtick=10,
        minor=dict(dtick=1, tick0=0, ticks="inside", ticklen=7, tickwidth=1.5, tickcolor="black"),
        tickfont=dict(family=FONT, size=21, color="black"))
    layout[f"yaxis{n}"] = dict(
        domain=ydom, anchor=xa, range=[0, 1], showgrid=False, zeroline=False,
        showline=True, linecolor="black", linewidth=3, mirror=True,
        ticks="", showticklabels=False)
    t = n + 8
    layout[f"xaxis{t}"] = dict(
        overlaying=xa, side="top", anchor=ya, range=xr, showgrid=False,
        zeroline=False, showline=False, ticks="", tickmode="array",
        tickvals=TOP_TICK_MODES[i], ticktext=TOP_TICK_LABELS[i], ticklabelstandoff=5,
        tickfont=dict(family=FONT, size=21, color="black"))
    fig.add_trace(go.Scatter(x=[], y=[], xaxis=f"x{t}", yaxis=ya, hoverinfo="skip"))

    for pts, color in PANEL_SERIES[i]:
        fig.add_trace(go.Scatter(
            x=[p[0] for p in pts], y=[p[1] for p in pts], mode="lines",
            line=dict(color=color, width=3, shape="spline", smoothing=0.9),
            connectgaps=False, xaxis=xa, yaxis=ya, hoverinfo="skip"))

    for b0, b1, kind in BANDS[i]:
        shapes.append(dict(type="rect", xref=xa, yref=ya, x0=b0, x1=b1, y0=0, y1=1,
                           fillcolor=BAND_FILL[kind], line=dict(color="#8c8c8c", width=2.5),
                           layer="below"))

    for text, tx, ty in LABELS[i]:
        annotations.append(dict(text=text, x=tx, y=ty, xref=xa, yref=ya, showarrow=False,
                                xanchor="center", yanchor="middle",
                                font=dict(family=FONT, size=27, color="black")))

    for idx, tx, ty in NU_LABELS[i]:
        annotations.append(dict(text="<i>ν</i>", x=tx, y=ty, xref=xa, yref=ya, showarrow=False,
                                xanchor="right", yanchor="middle", xshift=4,
                                font=dict(family=FONT, size=27, color="black")))
        annotations.append(dict(text=idx, x=tx, y=ty, xref=xa, yref=ya, showarrow=False,
                                xanchor="left", yanchor="middle", xshift=-1, yshift=-9,
                                font=dict(family=FONT, size=19, color="black")))

    for (p0, c, p1) in ARROWS[i]:
        shapes.append(dict(type="path", xref=xa, yref=ya,
                           path=f"M {p0[0]},{p0[1]} Q {c[0]},{c[1]} {p1[0]},{p1[1]}",
                           line=dict(color="black", width=2.2), layer="above"))
        # open V arrow head aligned with the end tangent (screen pixels)
        dxp = (p1[0] - c[0]) * PX_PER_UNIT
        dyp = -(p1[1] - c[1]) * BOX_H
        nrm = math.hypot(dxp, dyp) or 1.0
        ux, uy = dxp / nrm, dyp / nrm
        arms = []
        for s in (1, -1):
            ca, sa = math.cos(s * HEAD_ANG), math.sin(s * HEAD_ANG)
            bx = -(ux * ca - uy * sa) * HEAD_LEN
            by = -(ux * sa + uy * ca) * HEAD_LEN
            arms.append((p1[0] + bx / PX_PER_UNIT, p1[1] - by / BOX_H))
        shapes.append(dict(type="path", xref=xa, yref=ya,
                           path=(f"M {arms[0][0]},{arms[0][1]} L {p1[0]},{p1[1]} "
                                 f"L {arms[1][0]},{arms[1][1]}"),
                           line=dict(color="black", width=2.2), layer="above"))

    lx, ly = LETTER_POS[i]
    annotations.append(dict(text=PANEL_LETTERS[i], x=lx, y=ly, xref=xa, yref=ya,
                            showarrow=False, xanchor="center", yanchor="middle",
                            font=dict(family=FONT, size=27, color="black")))

for col in range(2):
    cx = (COL_DOM[col][0] * W + 255.5) / W
    annotations.append(dict(text="Frequency in GHz", x=cx, y=1 - 18 / H, xref="paper",
                            yref="paper", showarrow=False, xanchor="center", yanchor="middle",
                            font=dict(family=FONT, size=26, color="black")))
    annotations.append(dict(text="Cavity Mode", x=cx, y=1 - 1000 / H, xref="paper",
                            yref="paper", showarrow=False, xanchor="center", yanchor="middle",
                            font=dict(family=FONT, size=26, color="black")))

layout["shapes"] = shapes
layout["annotations"] = annotations
fig.update_layout(**layout)
fig.write_html(
    "out.html",
    config={"responsive": False, "displayModeBar": False},
    post_script=("document.documentElement.style.overflow='hidden';"
                 "document.body.style.margin='0';document.body.style.overflow='hidden';"))
